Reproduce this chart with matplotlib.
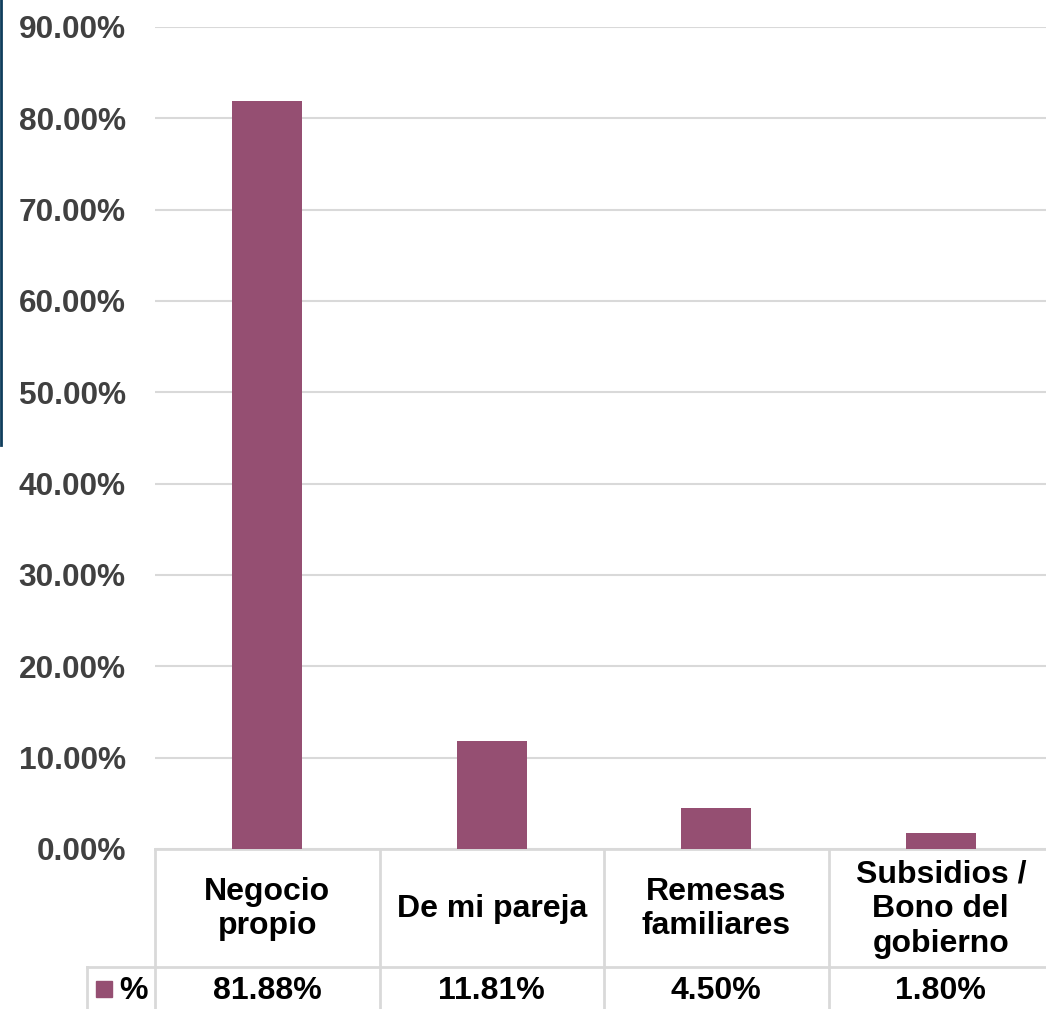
import numpy as np
import matplotlib.pyplot as plt
import matplotlib.transforms as mtransforms
from matplotlib.ticker import FuncFormatter, MultipleLocator

plt.rcParams['font.family'] = ['Liberation Sans', 'DejaVu Sans']

# datos
categorias = ["Negocio\npropio", "De mi pareja", "Remesas\nfamiliares",
              "Subsidios /\nBono del\ngobierno"]
valores = [81.88, 11.81, 4.50, 1.80]
etiquetas = ["81.88%", "11.81%", "4.50%", "1.80%"]
serie = "%"

color_barra = "#954F72"
color_linea = "#D9D9D9"

W, H = 1046, 1009
fig = plt.figure(figsize=(W / 100, H / 100), dpi=100)

# area del grafico en pixeles (se sale un poco por la derecha como en el original)
left, right, top, bottom = 155, 1053, 27, 849
ax = fig.add_axes([left / W, 1 - bottom / H, (right - left) / W, (bottom - top) / H])

x = np.arange(len(categorias))
ax.bar(x, valores, width=0.31, color=color_barra, zorder=3)

ax.set_xlim(-0.5, len(categorias) - 0.5)
ax.set_ylim(0, 90)
ax.yaxis.set_major_locator(MultipleLocator(10))
ax.yaxis.set_major_formatter(FuncFormatter(lambda v, p: f"{v:.2f}%"))
ax.grid(axis='y', color=color_linea, linewidth=1.5, zorder=0)
ax.set_xticks([])
ax.tick_params(axis='y', length=0, pad=21, labelsize=22.8, labelcolor='#404040')
for lbl in ax.get_yticklabels():
    lbl.set_fontweight('bold')
for s in ['top', 'right', 'left']:
    ax.spines[s].set_visible(False)
ax.spines['bottom'].set_color(color_linea)
ax.spines['bottom'].set_linewidth(2)

# tabla de datos debajo del eje
ph = bottom - top
def ay(ypx):
    # pixel de la figura (desde arriba) -> fraccion del eje
    return (bottom - ypx) / ph

trans = mtransforms.blended_transform_factory(ax.transData, ax.transAxes)
fila1, fila2, fin = 849, 967, 1040
kw = dict(transform=trans, color=color_linea, linewidth=2, clip_on=False)
for b in np.arange(len(categorias) + 1) - 0.5:
    ax.plot([b, b], [ay(fila1), ay(fin)], **kw)
ax.plot([-0.5, len(categorias) - 0.5], [ay(fila2), ay(fila2)], **kw)

# columna de la leyenda
xl = -0.5 - (left - 87) / ((right - left) / len(categorias))
ax.plot([xl, -0.5], [ay(fila2), ay(fila2)], **kw)
ax.plot([xl, xl], [ay(fila2), ay(fin)], **kw)

for i, (c, e) in enumerate(zip(categorias, etiquetas)):
    ax.text(i, ay((fila1 + fila2) / 2 + 1), c, transform=trans, ha='center', va='center',
            fontsize=23, fontweight='bold', color='black', linespacing=1.2)
    ax.text(i, ay(991), e, transform=trans, ha='center', va='center',
            fontsize=23, fontweight='bold', color='black')

fig.patches.append(plt.Rectangle((96 / W, 1 - 997 / H), 16 / W, 16 / H,
                                 transform=fig.transFigure, color=color_barra))
fig.text(119 / W, 1 - 991 / H, serie, ha='left', va='center',
         fontsize=23, fontweight='bold', color='black')

# linea vertical oscura en el borde izquierdo
fig.add_artist(plt.Line2D([1 / W, 1 / W], [1, 1 - 445 / H], color='#0F3D5C',
                          linewidth=2, transform=fig.transFigure))

fig.savefig("out.png", dpi=100)
